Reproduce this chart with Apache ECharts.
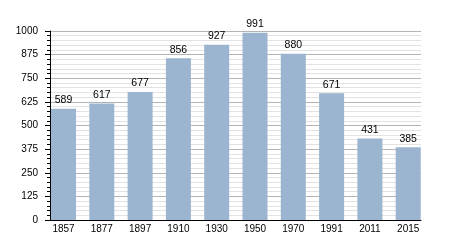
<!DOCTYPE html>
<html><head><meta charset="utf-8">
<script src="https://cdn.jsdelivr.net/npm/echarts@6/dist/echarts.min.js"></script>
<style>html,body{margin:0;padding:0;background:#fff}#c{width:450px;height:250px}</style>
</head><body><div id="c"></div>
<script>
const categories = ['1857','1877','1897','1910','1930','1950','1970','1991','2011','2015'];
const population = [589, 617, 677, 856, 927, 991, 880, 671, 431, 385];
const yTicks = [0, 125, 250, 375, 500, 625, 750, 875, 1000];

const font = '"Liberation Sans", Arial, sans-serif';
const chart = echarts.init(document.getElementById('c'), null, {renderer: 'canvas'});
chart.setOption({
  animation: false,
  grid: [
    {left: 50, top: 31, width: 371, height: 189},
    {left: 44.35, top: 31, width: 383, height: 189}
  ],
  xAxis: [
    {gridIndex: 0, type: 'category', data: categories, boundaryGap: true,
     axisLine: {show: true, lineStyle: {color: '#000', width: 1}},
     axisTick: {show: false}, axisLabel: {show: false}, splitLine: {show: false}},
    {gridIndex: 1, type: 'category', data: categories, boundaryGap: true,
     axisLine: {show: false}, axisTick: {show: false},
     axisLabel: {show: true, color: '#000', fontSize: 10, fontFamily: font, margin: 4}}
  ],
  yAxis: [
    {gridIndex: 0, type: 'value', min: yTicks[0], max: yTicks[yTicks.length-1], interval: 125,
     axisLine: {show: true, lineStyle: {color: '#000', width: 1}},
     axisTick: {show: true, length: 5, lineStyle: {color: '#000'}},
     minorTick: {show: true, splitNumber: 5, length: 3, lineStyle: {color: '#000'}},
     axisLabel: {color: '#000', fontSize: 10, fontFamily: font, margin: 12,
                 formatter: v => String(v)},
     splitLine: {show: true, lineStyle: {color: '#b4b4b4', width: 1}},
     minorSplitLine: {show: true, lineStyle: {color: '#e2e2e2', width: 1}}},
    {gridIndex: 1, type: 'value', min: 0, max: 1000, show: false}
  ],
  series: [{
    type: 'bar', xAxisIndex: 1, yAxisIndex: 1, data: population, barWidth: 25,
    itemStyle: {color: '#9bb4cf'},
    label: {show: true, position: 'top', distance: 3, color: '#000', fontSize: 10.5, fontFamily: font}
  }]
});
</script></body></html>
